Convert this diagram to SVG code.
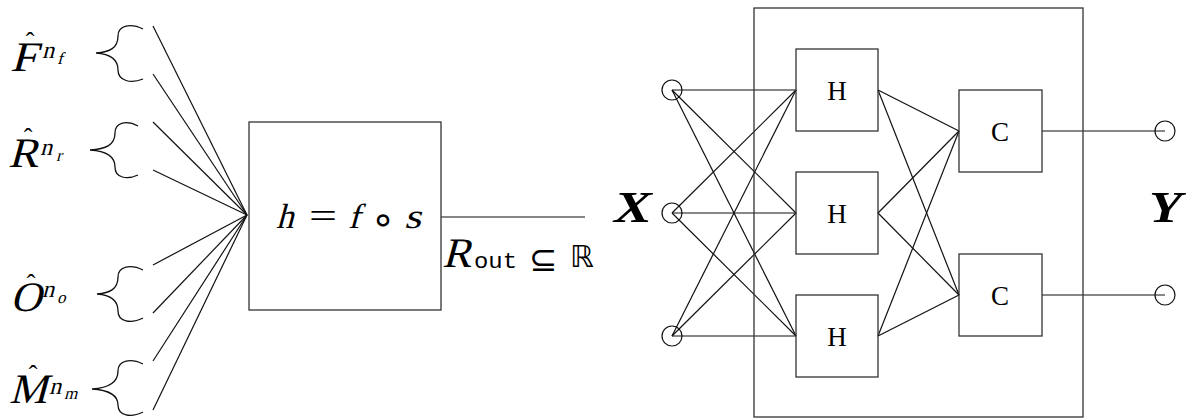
<svg xmlns="http://www.w3.org/2000/svg" width="1186" height="419" viewBox="0 0 1186 419">
<style>
.ln{stroke:#111;stroke-width:1.2;fill:none}
.bx{stroke:#333;stroke-width:1.3;fill:none}
.br{stroke:#111;stroke-width:1.3;fill:none}
.io{stroke:#111;stroke-width:1.2;fill:none}
.rm{font-family:"Liberation Serif",serif;fill:#000}
.cal{font-family:"Liberation Serif",serif;font-size:42px;fill:#000}
.sup{font-family:"Liberation Serif",serif;font-size:24px;fill:#000}
.sub{font-family:"Liberation Serif",serif;font-size:17px;fill:#000}
.hat{font-family:"Liberation Serif",serif;font-size:26px;fill:#000}
.tt{font-family:"Liberation Mono",monospace;fill:#000}
.sym{font-family:"DejaVu Sans",sans-serif;fill:#000}
.bi{font-family:"Liberation Serif",serif;font-style:italic;font-weight:bold;fill:#000}
</style>
<rect width="1186" height="419" fill="#fff"/>
<g id="connectors">
  <line class="ln" x1="153" y1="26" x2="247" y2="215"/>
  <line class="ln" x1="153" y1="74" x2="247" y2="215"/>
  <line class="ln" x1="153" y1="122" x2="247" y2="215"/>
  <line class="ln" x1="153" y1="170" x2="247" y2="215"/>
  <line class="ln" x1="153" y1="265" x2="247" y2="215"/>
  <line class="ln" x1="153" y1="313" x2="247" y2="215"/>
  <line class="ln" x1="153" y1="361" x2="247" y2="215"/>
  <line class="ln" x1="153" y1="410" x2="247" y2="215"/>
  <line class="ln" x1="441" y1="217" x2="585" y2="217"/>
  <line class="ln" x1="672" y1="90" x2="796" y2="90"/>
  <line class="ln" x1="672" y1="90" x2="796" y2="213"/>
  <line class="ln" x1="672" y1="90" x2="796" y2="336"/>
  <line class="ln" x1="672" y1="213" x2="796" y2="90"/>
  <line class="ln" x1="672" y1="213" x2="796" y2="213"/>
  <line class="ln" x1="672" y1="213" x2="796" y2="336"/>
  <line class="ln" x1="672" y1="336" x2="796" y2="90"/>
  <line class="ln" x1="672" y1="336" x2="796" y2="213"/>
  <line class="ln" x1="672" y1="336" x2="796" y2="336"/>
  <line class="ln" x1="878" y1="90" x2="959" y2="131"/>
  <line class="ln" x1="878" y1="90" x2="959" y2="295"/>
  <line class="ln" x1="878" y1="213" x2="959" y2="131"/>
  <line class="ln" x1="878" y1="213" x2="959" y2="295"/>
  <line class="ln" x1="878" y1="336" x2="959" y2="131"/>
  <line class="ln" x1="878" y1="336" x2="959" y2="295"/>
  <line class="ln" x1="1042" y1="131" x2="1165" y2="131"/>
  <line class="ln" x1="1042" y1="295" x2="1165" y2="295"/>
</g>
<g id="input-F">
  <path class="br" d="M143,29 C131,23 118,25 118,36 C118,48 110,52 96,53 C110,54 118,59 118,70 C118,81 131,84 143,79"/>
  <text class="cal" transform="translate(10,71) skewX(-15)" textLength="27" lengthAdjust="spacingAndGlyphs">F</text>
  <text class="hat" x="30" y="50" text-anchor="middle">ˆ</text>
  <text class="sup" transform="translate(42,58) skewX(-15)">n</text>
  <text class="sub" transform="translate(57,64) skewX(-15)">f</text>
</g>
<g id="input-R">
  <path class="br" d="M138,126 C127,120 115,122 115,133 C115,145 106,149 90,150 C106,151 115,156 115,167 C115,178 127,180 138,175"/>
  <text class="cal" transform="translate(8,167) skewX(-15)" textLength="30" lengthAdjust="spacingAndGlyphs">R</text>
  <text class="hat" x="28" y="146" text-anchor="middle">ˆ</text>
  <text class="sup" transform="translate(40,155) skewX(-15)">n</text>
  <text class="sub" transform="translate(56,161) skewX(-15)">r</text>
</g>
<g id="input-O">
  <path class="br" d="M143,270 C131,264 118,266 118,277 C118,289 110,293 97,294 C110,295 118,300 118,311 C118,322 131,324 143,318"/>
  <text class="cal" transform="translate(10,311) skewX(-15)" textLength="31" lengthAdjust="spacingAndGlyphs">O</text>
  <text class="hat" x="31" y="292" text-anchor="middle">ˆ</text>
  <text class="sup" transform="translate(42,297) skewX(-15)">n</text>
  <text class="sub" transform="translate(57,303) skewX(-15)">o</text>
</g>
<g id="input-M">
  <path class="br" d="M143,364 C131,358 118,360 118,371 C118,383 108,388 92,389 C108,390 118,395 118,405 C118,416 131,418 143,412"/>
  <text class="cal" transform="translate(9,403) skewX(-15)" textLength="38" lengthAdjust="spacingAndGlyphs">M</text>
  <text class="hat" x="33" y="383" text-anchor="middle">ˆ</text>
  <text class="sup" transform="translate(49,394) skewX(-15)">n</text>
  <text class="sub" transform="translate(64,399) skewX(-15)">m</text>
</g>
<g id="h-box">
  <rect class="bx" x="249" y="122" width="192" height="188"/>
  <text class="rm" font-size="35" transform="translate(276,228) skewX(-15)">h</text>
  <text class="rm" font-size="35" x="309" y="228" textLength="28" lengthAdjust="spacingAndGlyphs">=</text>
  <text class="rm" font-size="35" transform="translate(348,228) skewX(-15)">f</text>
  <text class="sym" font-size="40" x="383" y="233" text-anchor="middle">∘</text>
  <text class="rm" font-size="35" transform="translate(404,228) skewX(-15)" textLength="17" lengthAdjust="spacingAndGlyphs">s</text>
</g>
<g id="r-out-label">
  <text class="cal" font-size="36" transform="translate(442,267) skewX(-15)" textLength="29" lengthAdjust="spacingAndGlyphs">R</text>
  <text class="tt" font-size="22" x="474" y="268" textLength="43" lengthAdjust="spacingAndGlyphs">out</text>
  <text class="sym" font-size="34" x="529" y="271">⊆</text>
  <text class="sym" font-size="30" x="570" y="267">ℝ</text>
</g>
<g id="network-box">
  <rect class="bx" x="754" y="8" width="329" height="409"/>
</g>
<g id="X">
  <text class="bi" x="614" y="222" font-size="44" textLength="38" lengthAdjust="spacingAndGlyphs">X</text>
</g>
<g id="in1"><circle class="io" cx="672" cy="90" r="10"/></g>
<g id="in2"><circle class="io" cx="672" cy="213" r="10"/></g>
<g id="in3"><circle class="io" cx="672" cy="336" r="10"/></g>
<g id="H1">
  <rect class="bx" x="796" y="49" width="82" height="82"/>
  <text class="rm" x="837" y="100" font-size="27" text-anchor="middle">H</text>
</g>
<g id="H2">
  <rect class="bx" x="796" y="172" width="82" height="82"/>
  <text class="rm" x="837" y="223" font-size="27" text-anchor="middle">H</text>
</g>
<g id="H3">
  <rect class="bx" x="796" y="295" width="82" height="82"/>
  <text class="rm" x="837" y="346" font-size="27" text-anchor="middle">H</text>
</g>
<g id="C1">
  <rect class="bx" x="959" y="90" width="83" height="82"/>
  <text class="rm" x="1000" y="141" font-size="27" text-anchor="middle">C</text>
</g>
<g id="C2">
  <rect class="bx" x="959" y="254" width="83" height="82"/>
  <text class="rm" x="1000" y="305" font-size="27" text-anchor="middle">C</text>
</g>
<g id="out1"><circle class="io" cx="1165" cy="131" r="10"/></g>
<g id="out2"><circle class="io" cx="1165" cy="295" r="10"/></g>
<g id="Y">
  <text class="bi" x="1149" y="222" font-size="44" textLength="33" lengthAdjust="spacingAndGlyphs">Y</text>
</g>
</svg>
